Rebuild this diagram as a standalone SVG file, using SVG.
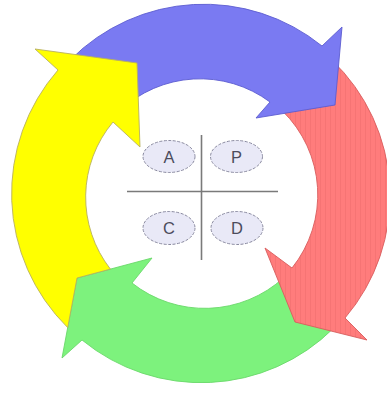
<svg xmlns="http://www.w3.org/2000/svg" width="387" height="393" viewBox="0 0 387 393">
<defs>
<pattern id="stripes" width="5" height="10" patternUnits="userSpaceOnUse">
<rect width="5" height="10" fill="#FF7C7C"/>
<line x1="0.5" y1="0" x2="0.5" y2="10" stroke="#F06E6E" stroke-width="0.6"/>
</pattern>
</defs>
<style>
.arrow{stroke-width:0.9;stroke-linejoin:miter}
.green{fill:#7DF27D;stroke:#6AD86A}
.red{fill:url(#stripes);stroke:#D85C5C}
.blue{fill:#7A7AF2;stroke:#5C5CD0}
.yellow{fill:#FFFF00;stroke:#B8B060}
.bubble{fill:#E9E9F7;stroke:#8A8AA0;stroke-width:1;stroke-dasharray:3 1.5}
.lbl{font-family:"Liberation Sans",Arial,sans-serif;font-size:16.5px;fill:#4C4C5C;text-anchor:middle}
.cross{stroke:#7A7A7A;stroke-width:1.6}
</style>
<rect width="387" height="393" fill="#FFFFFF"/>
<g id="arrow-green">
<path class="arrow green" d="M333.9,327.9 A188,188 0 0 1 82,340 L62,358 L77,278 L152,258 L132,283 A117,117 0 0 0 283.7,277.7 Z"/>
</g>
<g id="arrow-red">
<path class="arrow red" d="M331.6,59.8 A188,188 0 0 1 345,318 L367,340 L295,322 L265,248 L292,268 A117,117 0 0 0 282.3,110.8 Z"/>
</g>
<g id="arrow-blue">
<path class="arrow blue" d="M70.4,59.8 A188,188 0 0 1 322,46 L342,27 L335,105 L256,118 L270,102 A117,117 0 0 0 119.7,110.8 Z"/>
</g>
<g id="arrow-yellow">
<path class="arrow yellow" d="M67.7,327.6 A188,188 0 0 1 58,70 L35,49 L137,63 L140,147 L113,122 A117,117 0 0 0 110.4,269.1 L77,278 Z"/>
</g>
<g id="cross">
<line class="cross" x1="201.5" y1="135" x2="201.5" y2="260"/>
<line class="cross" x1="127" y1="191.5" x2="278" y2="191.5"/>
</g>
<g id="node-A">
<ellipse class="bubble" cx="169" cy="156.5" rx="26" ry="16"/>
<text class="lbl" x="169" y="162.5">A</text>
</g>
<g id="node-P">
<ellipse class="bubble" cx="236.5" cy="156.5" rx="26" ry="16"/>
<text class="lbl" x="236.5" y="162.5">P</text>
</g>
<g id="node-C">
<ellipse class="bubble" cx="169" cy="228" rx="26" ry="16.5"/>
<text class="lbl" x="169" y="234">C</text>
</g>
<g id="node-D">
<ellipse class="bubble" cx="237" cy="228" rx="26" ry="16.5"/>
<text class="lbl" x="237" y="234">D</text>
</g>
<g id="connectors"></g>
</svg>
